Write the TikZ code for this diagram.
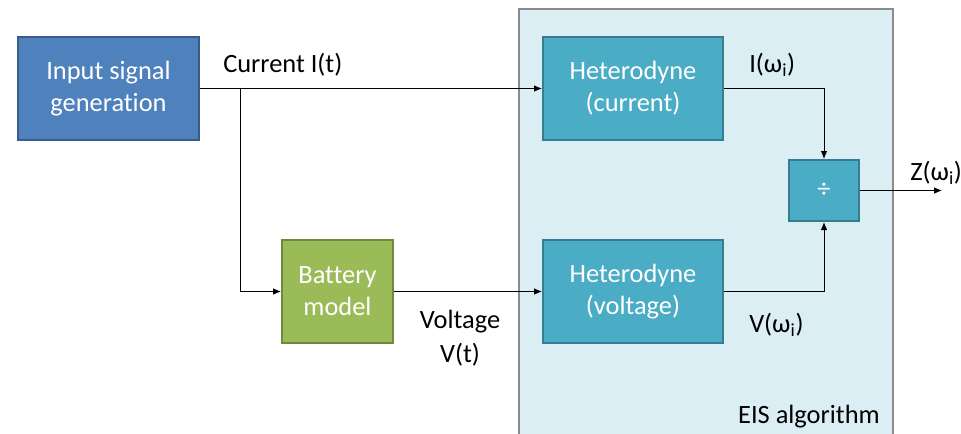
\documentclass[tikz,border=0pt]{standalone}
\usepackage{fontspec}
\setmainfont{Carlito}[Ligatures=NoCommon]
\usetikzlibrary{arrows.meta}
\definecolor{inblue}{HTML}{4F81BD}
\definecolor{inblueB}{HTML}{385D8A}
\definecolor{batg}{HTML}{9BBB59}
\definecolor{batgB}{HTML}{71893F}
\definecolor{hetc}{HTML}{4BACC6}
\definecolor{hetcB}{HTML}{357D91}
\definecolor{eisf}{HTML}{DBEEF4}
\definecolor{eisB}{HTML}{8C8C8C}
\begin{document}
\begin{tikzpicture}[x=0.75pt,y=-0.75pt,
  every node/.style={font=\fontsize{19.8pt}{24pt}\selectfont},
  blk/.style={draw, line width=1.5pt, align=center, text=white, inner sep=0pt},
  conn/.style={line width=0.75pt, -{Latex[length=6pt,width=5pt]}},
  lbl/.style={inner sep=0pt, text=black}]
\useasboundingbox (0,0) rectangle (961,433);
% EIS background
\draw[fill=eisf, draw=eisB, line width=1.8pt] (519,9) rectangle (893,450);
\node[lbl, anchor=base east] (eis) at (880,423) {EIS algorithm};
% blocks
\node[blk, fill=inblue, draw=inblueB, minimum width=135.75pt, minimum height=77.25pt] (in) at (108.5,88.5) {Input signal\\generation};
\node[blk, fill=batg, draw=batgB, minimum width=83.25pt, minimum height=77.25pt] (bat) at (337.5,291.5) {Battery\\model};
\node[blk, fill=hetc, draw=hetcB, minimum width=135pt, minimum height=77.25pt] (hc) at (633,88.5) {Heterodyne\\(current)};
\node[blk, fill=hetc, draw=hetcB, minimum width=135pt, minimum height=77.25pt] (hv) at (633,291.5) {Heterodyne\\(voltage)};
\node[blk, fill=hetc, draw=hetcB, minimum width=52.5pt, minimum height=45.75pt] (div) at (824,190.5) {÷};
% connectors
\coordinate (br) at (240,88.5);
\coordinate (out) at (942,190.5);
\draw[conn] (in.east) -- (hc.west);
\draw[conn] (br) |- (bat.west);
\draw[conn] (bat.east) -- (hv.west);
\draw[conn] (hc.east) -| (div.north);
\draw[conn] (hv.east) -| (div.south);
\draw[conn] (div.east) -- (out);
% labels
\node[lbl, anchor=base west] (lcur) at (223,72) {Current I(t)};
\node[lbl, anchor=base, align=center, font=\fontsize{19.8pt}{25.5pt}\selectfont] (lvol) at (460,362) {Voltage\\V(t)};
\node[lbl, anchor=base west] (liw) at (749,72) {I(ω\textsubscript{i})};
\node[lbl, anchor=base west] (lvw) at (749,332) {V(ω\textsubscript{i})};
\node[lbl, anchor=base west] (lzw) at (910,180) {Z(ω\textsubscript{i})};
\end{tikzpicture}
\end{document}
